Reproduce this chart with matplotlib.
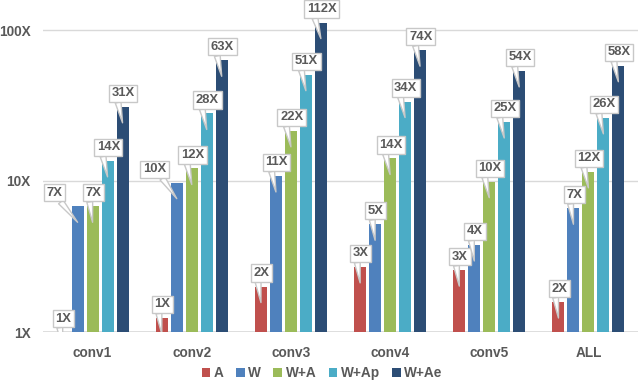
import matplotlib
matplotlib.use("Agg")
import matplotlib.pyplot as plt
import numpy as np

# layer names and speedup per configuration
layers = ["conv1", "conv2", "conv3", "conv4", "conv5", "ALL"]
series_names = ["A", "W", "W+A", "W+Ap", "W+Ae"]
speedup_A = [1.0, 1.24, 2.0, 2.7, 2.57, 1.58]
speedup_W = [6.8, 9.75, 10.8, 5.17, 3.77, 6.6]
speedup_WA = [6.8, 12.1, 21.5, 14.1, 9.9, 11.5]
speedup_WAp = [13.6, 28.0, 50.6, 33.6, 24.6, 26.2]
speedup_WAe = [31.0, 63.0, 112.0, 73.5, 53.6, 58.0]
colors = ["#C0504D", "#4F81BD", "#9BBB59", "#4BACC6", "#2C4D75"]

plt.rcParams["font.family"] = ["Liberation Sans", "DejaVu Sans"]
plt.rcParams["font.weight"] = "bold"
txt_color = "#595959"

# callouts that were dragged left so they don't collide (layer, series) -> px
nudge = {(0, 1): -24, (1, 1): -23}
px = 0.72  # points per pixel at dpi 100

fig = plt.figure(figsize=(6.38, 3.82), dpi=100)
ax = fig.add_axes([43 / 638, 1 - 332 / 382, 595 / 638, 332 / 382])

all_series = [speedup_A, speedup_W, speedup_WA, speedup_WAp, speedup_WAe]
x = np.arange(len(layers))
step = 0.151
width = 0.121

for j, (vals, name, c) in enumerate(zip(all_series, series_names, colors)):
    pos = x + (j - 2) * step
    ax.bar(pos, vals, width=width, color=c, label=name, zorder=2)
    for i, (xi, v) in enumerate(zip(pos, vals)):
        tip = v * 10 ** (-16 / 151)
        dx = nudge.get((i, j), 0)
        rel = (0.75, 0.0) if dx else (0.25, 0.0)
        ann = ax.annotate(
            f"{v:.0f}X", xy=(xi, tip), xytext=((dx + 0.7) * px, 29.5 * px),
            textcoords="offset points", ha="center", va="center",
            fontsize=9.4, fontweight="bold", color=txt_color,
            bbox=dict(boxstyle="square,pad=0.2", fc="white", ec="#c8c8c8", lw=1),
            arrowprops=dict(arrowstyle="wedge,tail_width=0.45,shrink_factor=0.5",
                            fc="white", ec="#c8c8c8", lw=1,
                            relpos=rel, shrinkA=0, shrinkB=0),
            annotation_clip=False, zorder=5)
        ann.arrow_patch.set_clip_path(ax.patch)

ax.set_yscale("log")
ax.set_ylim(1, 10 ** (332 / 151))
ax.set_xlim(-0.5, len(layers) - 0.5)
ax.set_yticks([1, 10, 100])
ax.set_yticklabels(["1X", "10X", "100X"])
ax.yaxis.set_minor_locator(matplotlib.ticker.NullLocator())
ax.set_xticks(x)
ax.set_xticklabels(layers)
ax.tick_params(axis="both", length=0, colors=txt_color)
ax.tick_params(axis="y", pad=9, labelsize=9.8)
ax.tick_params(axis="x", pad=10, labelsize=9.8)
for lab in ax.get_xticklabels() + ax.get_yticklabels():
    lab.set_fontweight("bold")

ax.grid(True, axis="y", color="#d9d9d9", lw=1, zorder=0)
ax.set_axisbelow(True)
for s in ax.spines.values():
    s.set_visible(False)
ax.axhline(1, color="#d9d9d9", lw=1.2, zorder=1)

leg = fig.legend(loc="center", bbox_to_anchor=(0.505, 1 - 373 / 382), ncol=5,
                 frameon=False, handlelength=0.65, handleheight=0.65,
                 handletextpad=0.25, columnspacing=0.9,
                 prop=dict(size=9.8, weight="bold"))
for t in leg.get_texts():
    t.set_color(txt_color)

fig.savefig("out.png", dpi=100)
